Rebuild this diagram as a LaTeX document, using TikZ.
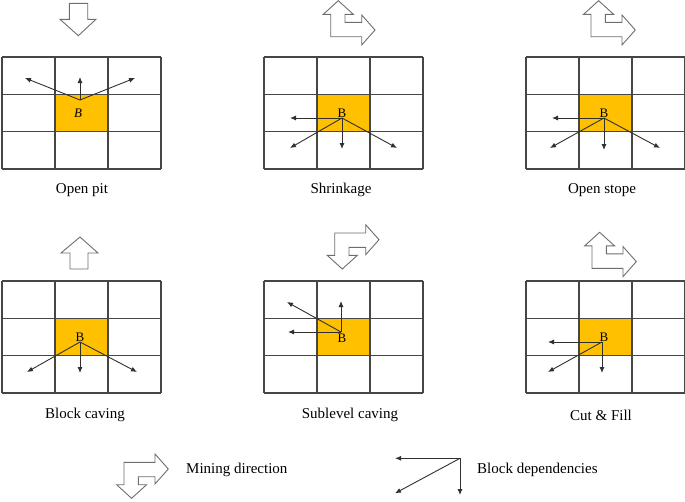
\documentclass[tikz,border=0pt]{standalone}
\usepackage{fontspec}
\setmainfont{Liberation Serif}
\usepackage{xcolor}
\usepackage{tikz}
\usetikzlibrary{calc}
\usetikzlibrary{arrows.meta}

\definecolor{oregold}{HTML}{FFC000}
\definecolor{gridgray}{HTML}{464646}
\definecolor{depgray}{HTML}{303030}
\definecolor{dirgray}{HTML}{6E6E6E}

\tikzset{
  blockline/.style={gridgray,line width=1.2pt},
  dep/.style={-{Latex[length=6pt,width=5pt]},depgray,line width=0.9pt},
  dirarrow/.style={dirgray,line width=0.9pt,fill=white,line join=miter},
  caption/.style={font=\fontsize{15}{18}\selectfont,inner sep=0pt},
  blk/.style={font=\fontsize{13}{15}\selectfont,inner sep=0pt},
}

% 3x3 block grid, centre block shaded
\newcommand{\cellgrid}{%
  \fill[oregold] (53,37.3) rectangle (106,74.6);
  \foreach \i in {0,...,3}{%
    \draw[blockline] (53*\i,0) -- (53*\i,112);
    \draw[blockline] (0,37.3*\i) -- (159,37.3*\i);}}

% L-shaped mining direction arrow, origin at the outer corner
\newcommand{\minedir}[1]{%
  \draw[dirarrow,#1] (0,0) -- (0,-22.4) -- (-7.4,-22.4) -- (7.6,-36) -- (22.6,-22.4) %
    -- (14.3,-22.4) -- (14.3,-14.4) -- (31,-14.4) -- (31,-21.7) -- (44.3,-6.7) %
    -- (31,8.3) -- (31,0) -- cycle;}

\begin{document}
\begin{tikzpicture}[x=1pt,y=-1pt]
  \useasboundingbox (0,0) rectangle (685,501);

  % mining directions
  \draw[dirarrow] (69.3,3.3) -- (87.7,3.3) -- (87.7,19.3) -- (96,19.3) %
    -- (78.3,35.7) -- (60,19.3) -- (69.3,19.3) -- cycle;
  \minedir{shift={(330.7,36.7)}}
  \minedir{shift={(591,36.7)}}
  \draw[dirarrow] (70,269) -- (88,269) -- (88,253) -- (98,253) %
    -- (80,237) -- (61,253) -- (70,253) -- cycle;
  \minedir{shift={(334.7,233)},yscale=-1}
  \minedir{shift={(592,268.3)}}

  % open pit
  \begin{scope}[shift={(2,57)}]
    \cellgrid
    \coordinate (pit) at (78,43);
    \coordinate (pit-n) at (78,20);
    \coordinate (pit-nw) at (23,21);
    \coordinate (pit-ne) at (133,21);
    \node[blk] (pit-b) at (76,56) {\textit{B}};
    \draw[dep] (pit) -- (pit-n);
    \draw[dep] (pit) -- (pit-nw);
    \draw[dep] (pit) -- (pit-ne);
  \end{scope}

  % shrinkage
  \begin{scope}[shift={(264,57)}]
    \cellgrid
    \coordinate (shr) at (78,61);
    \coordinate (shr-w) at (26,61);
    \coordinate (shr-s) at (78,92);
    \coordinate (shr-sw) at (26,91);
    \coordinate (shr-se) at (133,91);
    \node[blk] (shr-b) at (78,56) {B};
    \draw[dep] (shr) -- (shr-w);
    \draw[dep] (shr) -- (shr-s);
    \draw[dep] (shr) -- (shr-sw);
    \draw[dep] (shr) -- (shr-se);
  \end{scope}

  % open stope
  \begin{scope}[shift={(526,57)}]
    \cellgrid
    \coordinate (ost) at (78,61);
    \coordinate (ost-w) at (26,61);
    \coordinate (ost-s) at (78,93);
    \coordinate (ost-sw) at (24,91);
    \coordinate (ost-se) at (134,91);
    \node[blk] (ost-b) at (78,56) {B};
    \draw[dep] (ost) -- (ost-w);
    \draw[dep] (ost) -- (ost-s);
    \draw[dep] (ost) -- (ost-sw);
    \draw[dep] (ost) -- (ost-se);
  \end{scope}

  % block caving
  \begin{scope}[shift={(2,281)}]
    \cellgrid
    \coordinate (bcv) at (78,61);
    \coordinate (bcv-s) at (78,92);
    \coordinate (bcv-sw) at (25,91);
    \coordinate (bcv-se) at (135,91);
    \node[blk] (bcv-b) at (78,56) {B};
    \draw[dep] (bcv) -- (bcv-s);
    \draw[dep] (bcv) -- (bcv-sw);
    \draw[dep] (bcv) -- (bcv-se);
  \end{scope}

  % sublevel caving
  \begin{scope}[shift={(264,281)}]
    \cellgrid
    \coordinate (slc) at (77,51);
    \coordinate (slc-n) at (77,20);
    \coordinate (slc-nw) at (23,21);
    \coordinate (slc-w) at (24,51);
    \node[blk] (slc-b) at (78,57) {B};
    \draw[dep] (slc) -- (slc-n);
    \draw[dep] (slc) -- (slc-nw);
    \draw[dep] (slc) -- (slc-w);
  \end{scope}

  % cut & fill
  \begin{scope}[shift={(526,281)}]
    \cellgrid
    \coordinate (cfl) at (76,61);
    \coordinate (cfl-w) at (22,61);
    \coordinate (cfl-s) at (76,92);
    \coordinate (cfl-sw) at (22,91);
    \node[blk] (cfl-b) at (78,56) {B};
    \draw[dep] (cfl) -- (cfl-w);
    \draw[dep] (cfl) -- (cfl-s);
    \draw[dep] (cfl) -- (cfl-sw);
  \end{scope}

  % captions
  \node[caption] (pit-label) at (82,190) {Open pit};
  \node[caption] (shr-label) at (341,190) {Shrinkage};
  \node[caption] (ost-label) at (602,190) {Open stope};
  \node[caption] (bcv-label) at (85,415) {Block caving};
  \node[caption] (slc-label) at (350,415) {Sublevel caving};
  \node[caption] (cfl-label) at (601,415) {Cut \& Fill};

  % legend
  \minedir{shift={(124,462.3)},yscale=-1}
  \node[caption,anchor=west] (dir-label) at (186,470) {Mining direction};
  \coordinate (lgd) at (460,458.3);
  \coordinate (lgd-w) at (395,458.3);
  \coordinate (lgd-s) at (460,495);
  \coordinate (lgd-sw) at (395,493.3);
  \draw[dep] (lgd) -- (lgd-w);
  \draw[dep] (lgd) -- (lgd-s);
  \draw[dep] (lgd) -- (lgd-sw);
  \node[caption,anchor=west] (dep-label) at (477,470) {Block dependencies};
\end{tikzpicture}
\end{document}
